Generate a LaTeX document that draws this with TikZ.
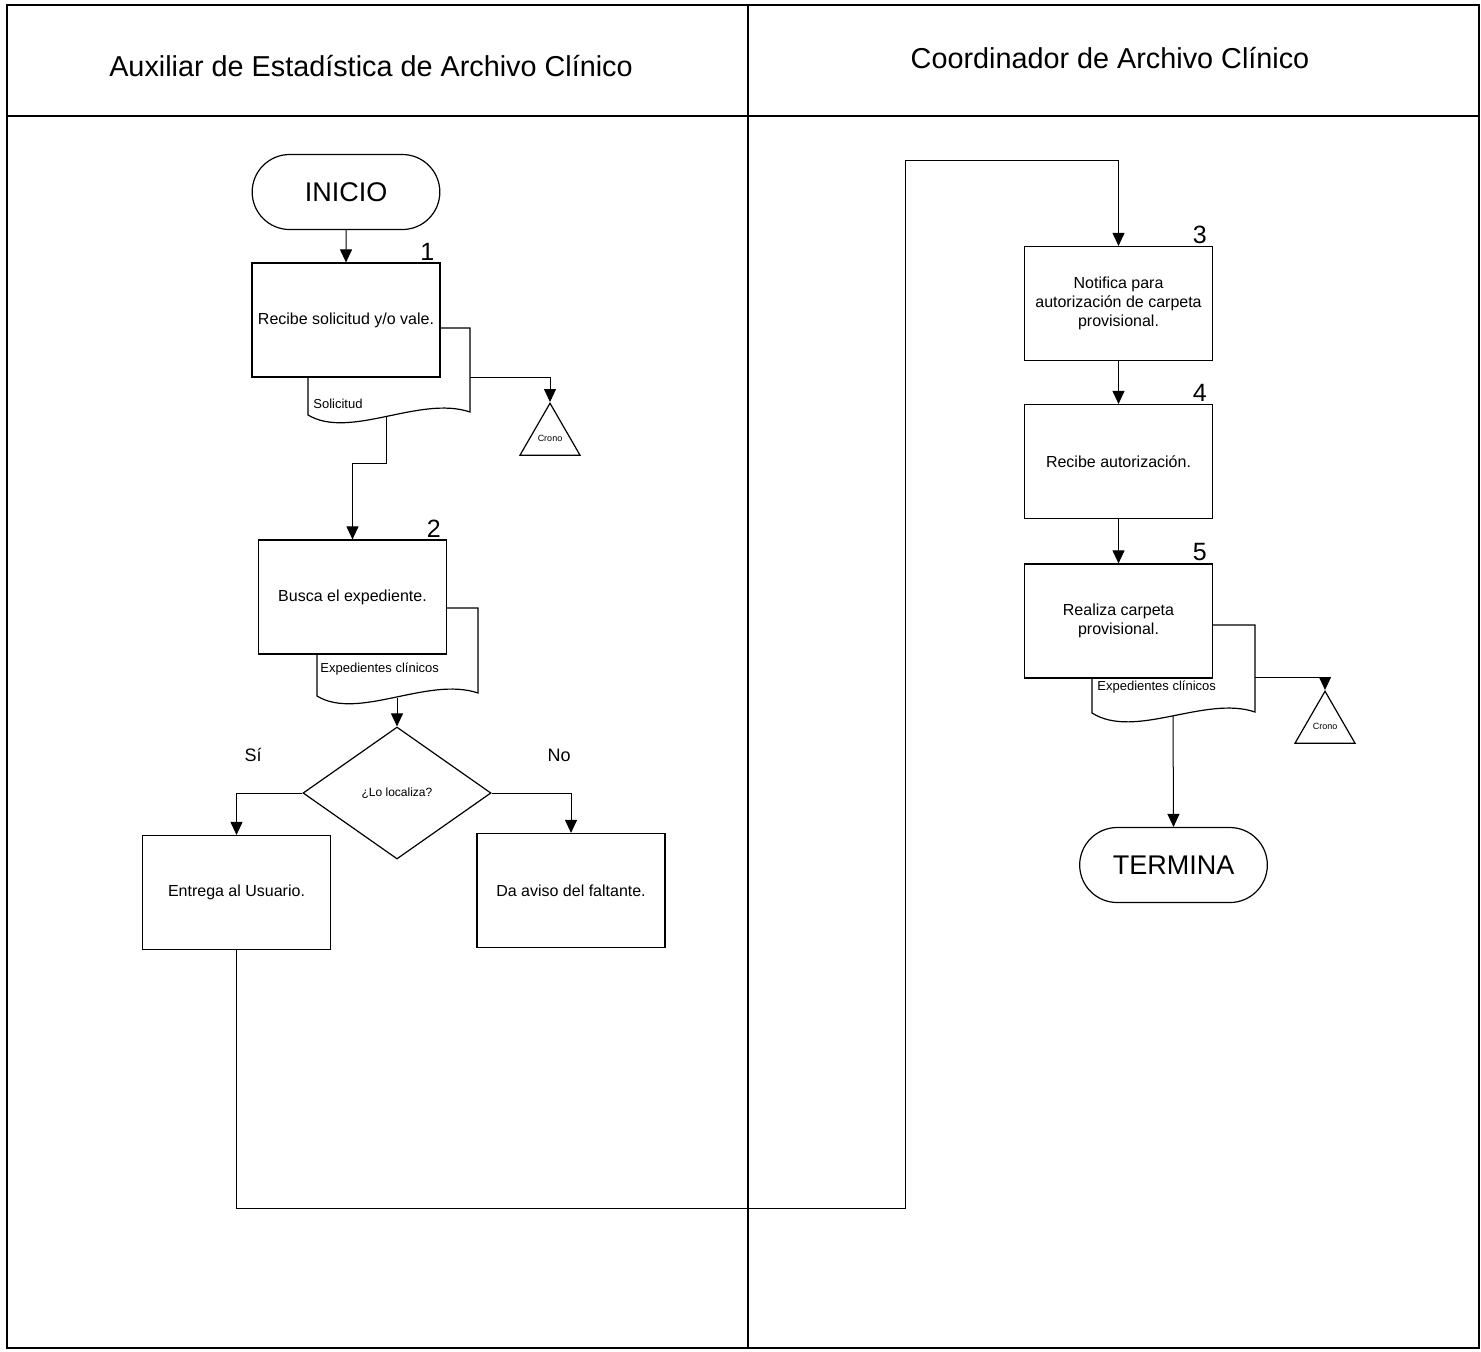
\documentclass[tikz,border=0pt]{standalone}
\usepackage{fontspec}
\setmainfont{Liberation Sans}
\usetikzlibrary{arrows.meta,shapes.geometric,shapes.misc,calc}
\tikzset{
  frame/.style={line width=1pt},
  wire/.style={line width=0.5pt},
  arr/.style={wire, -{Triangle[length=6.5pt,width=6pt]}},
  proc/.style={draw, fill=white, line width=0.6pt, minimum width=94pt, minimum height=57pt, inner sep=2pt, align=center, font=\fontsize{8}{9.5}\selectfont},
  term/.style={rounded rectangle, draw, fill=white, line width=0.6pt, minimum width=100.5pt, minimum height=37.5pt, font=\fontsize{13.5}{15}\selectfont},
  decide/.style={diamond, draw, fill=white, line width=0.6pt, minimum width=94pt, minimum height=66pt, inner sep=0pt, font=\fontsize{6}{7}\selectfont},
  crono/.style={regular polygon, regular polygon sides=3, draw, line width=0.6pt, minimum size=33.5pt, inner sep=0pt, font=\fontsize{4.5}{5}\selectfont},
  doc/.style={draw, fill=white, line width=0.6pt},
  doclabel/.style={anchor=west, inner sep=0pt, font=\fontsize{6.5}{7}\selectfont},
  num/.style={font=\fontsize{12.5}{12.5}\selectfont, inner sep=1pt, xshift=-2pt},
  lane/.style={font=\fontsize{14.4}{17}\selectfont},
  yesno/.style={font=\fontsize{9}{10}\selectfont}
}
\begin{document}
\begin{tikzpicture}[x=0.5pt,y=-0.5pt]
  \useasboundingbox (0,0) rectangle (1481,1351);
  % lanes
  \draw[frame] (7,5) rectangle (1479,1348);
  \draw[frame] (7,116) -- (1479,116);
  \draw[frame] (748,5) -- (748,1348);
  \node[lane] (lane1) at (371,66) {Auxiliar de Estadística de Archivo Clínico};
  \node[lane] (lane2) at (1110,58) {Coordinador de Archivo Clínico};

  % documents (behind the boxes)
  \draw[doc] (308,328) -- (470,328) -- (470,412) .. controls (420,395) and (350,440) .. (308,415) -- cycle;
  \draw[doc] (317,608) -- (478,608) -- (478,693) .. controls (428,676) and (358,721) .. (317,696) -- cycle;
  \draw[doc] (1092,625) -- (1255,625) -- (1255,712) .. controls (1205,695) and (1135,740) .. (1092,713) -- cycle;
  \coordinate (sol-r) at (470,377);
  \coordinate (sol-b) at (386,417);
  \coordinate (exp2-b) at (397,698);
  \coordinate (exp5-r) at (1255,677);
  \coordinate (exp5-b) at (1173,716);

  % left lane
  \node[term] (inicio) at (346,192) {INICIO};
  \node[proc, label={[num,anchor=south east]north east:1}] (recibe) at (346,320) {Recibe solicitud y/o vale.};
  \node[doclabel] (sol) at (313,404) {Solicitud};
  \node[crono, anchor=north] (crono1) at (550,402) {\raisebox{-3.5pt}{Crono}};
  \node[proc, label={[num,anchor=south east]north east:2}] (busca) at (352.5,597) {Busca el expediente.};
  \node[doclabel] (exp2) at (320,669) {Expedientes clínicos};
  \node[decide] (localiza) at (397,793) {¿Lo localiza?};
  \node[yesno] (si) at (253,755) {Sí};
  \node[yesno] (no) at (559,755) {No};
  \node[proc] (entrega) at (236.5,892.5) {Entrega al Usuario.};
  \node[proc] (aviso) at (571,890.5) {Da aviso del faltante.};

  % right lane
  \node[proc, label={[num,anchor=south east]north east:3}] (notifica) at (1118.5,303.5) {Notifica para\\autorización de carpeta\\provisional.};
  \node[proc, label={[num,anchor=south east]north east:4}] (autoriza) at (1118.5,461.5) {Recibe autorización.};
  \node[proc, label={[num,anchor=south east]north east:5}] (realiza) at (1118.5,621) {Realiza carpeta\\provisional.};
  \node[doclabel] (exp5) at (1097,687) {Expedientes clínicos};
  \node[crono, anchor=north] (crono2) at (1325,690) {\raisebox{-3.5pt}{Crono}};
  \node[term] (termina) at (1173.5,865) {TERMINA};

  % flow
  \draw[arr] (inicio) -- (recibe);
  \draw[arr] (sol-r) -| (crono1.north);
  \draw[arr] (sol-b) |- (busca.north |- 0,463) -- (busca.north);
  \draw[arr] (exp2-b) -- (localiza.north);
  \draw[arr] (localiza.west) -| (entrega.north);
  \draw[arr] (localiza.east) -| (aviso.north);
  \draw[arr] (entrega.south) |- (905,1208) -- (905,160) -| (notifica.north);
  \draw[arr] (notifica) -- (autoriza);
  \draw[arr] (autoriza) -- (realiza);
  \draw[arr] (exp5-r) -| (crono2.north);
  \draw[arr] (exp5-b) -- (termina.north);
\end{tikzpicture}
\end{document}
